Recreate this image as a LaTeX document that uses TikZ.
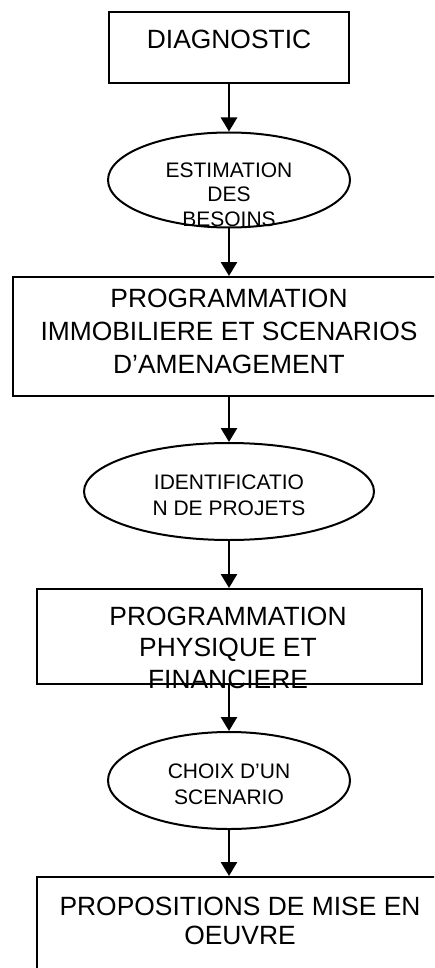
\documentclass[tikz,border=0pt]{standalone}
\usepackage{fontspec}
\setmainfont{Liberation Sans}
\usetikzlibrary{shapes.geometric,arrows.meta}

\tikzset{
  frame/.style={draw=black, line width=2pt, rectangle, inner sep=0pt},
  oval/.style={draw=black, line width=2pt, ellipse, inner sep=0pt},
  flow/.style={draw=black, line width=2.6pt, -{Triangle[length=14pt,width=16pt]}},
  bigtext/.style={inner sep=0pt, anchor=north, align=center,
    font={\fontsize{26.4}{#1}\selectfont}},
  smalltext/.style={inner sep=0pt, anchor=north, align=center,
    font={\fontsize{21}{#1}\selectfont}},
}

\begin{document}
\begin{tikzpicture}[x=1pt,y=-1pt]
\useasboundingbox (0,0) rectangle (434,968);
\clip (0,0) rectangle (434,968);

% shapes of the flow chart
\node[frame, minimum width=240pt, minimum height=71pt] (diag) at (229,47.5) {};
\node[oval, minimum width=242pt, minimum height=95pt] (estim) at (229,180) {};
\node[frame, minimum width=432pt, minimum height=119pt] (progimmo) at (229,336.5) {};
\node[oval, minimum width=290pt, minimum height=97pt] (ident) at (229,491.5) {};
\node[frame, minimum width=385pt, minimum height=95pt] (progphys) at (229.5,636.5) {};
\node[oval, minimum width=242pt, minimum height=97pt] (choix) at (229,780.5) {};
\node[frame, minimum width=406pt, minimum height=123pt] (propos) at (240,938.5) {};

% texts, set near the top of each shape
\node[bigtext=33] (diagtext) at (229,29.5) {DIAGNOSTIC};
\node[smalltext=24.4] (estimtext) at (229,162.5) {ESTIMATION\\DES\\BESOINS};
\node[bigtext=33.4] (progimmotext) at (229,288.5)
  {PROGRAMMATION\\IMMOBILIERE ET SCENARIOS\\D’AMENAGEMENT};
\node[smalltext=25.5] (identtext) at (229,475) {IDENTIFICATIO\\N DE PROJETS};
\node[bigtext=31.7] (progphystext) at (228,606.5)
  {PROGRAMMATION\\PHYSIQUE ET\\FINANCIERE};
\node[smalltext=25.4] (choixtext) at (229,764) {CHOIX D’UN\\SCENARIO};
\node[bigtext=29.5] (propostext) at (240,896.5)
  {PROPOSITIONS DE MISE EN\\OEUVRE};

% connectors
\draw[flow] (diag.south) -- (estim.north);
\draw[flow] (estim.south) -- (progimmo.north);
\draw[flow] (progimmo.south) -- (ident.north);
\draw[flow] (ident.south) -- (ident.south |- progphys.north);
\draw[flow] (ident.south |- progphys.south) -- (choix.north);
\draw[flow] (choix.south) -- (choix.south |- propos.north);
\end{tikzpicture}
\end{document}
